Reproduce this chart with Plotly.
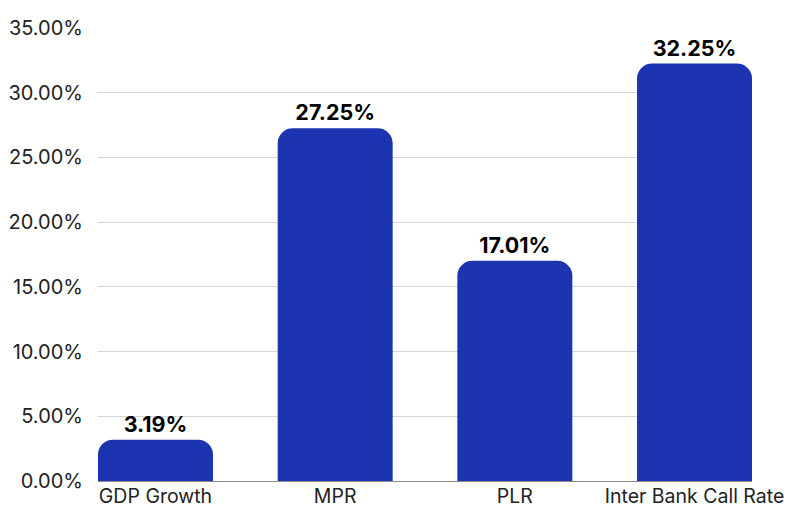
import plotly.graph_objects as go

categories = ["GDP Growth", "MPR", "PLR", "Inter Bank Call Rate"]
values = [3.19, 27.25, 17.01, 32.25]
tick_vals = [0, 5, 10, 15, 20, 25, 30, 35]
tick_text = [f"{v:.2f}%" for v in tick_vals]

fig = go.Figure(go.Bar(
    x=categories, y=values,
    marker=dict(color="#1c34b0", line=dict(width=0)),
    text=[f"{v:.2f}%" for v in values],
    textposition="outside",
    textfont=dict(family="Inter", size=21.5, color="#000000", weight="bold"),
    cliponaxis=False,
    width=0.64,
))

fig.update_layout(
    width=785, height=506,
    margin=dict(l=98, r=33, t=28, b=25, autoexpand=False),
    paper_bgcolor="white", plot_bgcolor="white",
    barcornerradius=15,
    font=dict(family="Inter", size=20, color="#222222"),
    showlegend=False,
)
fig.update_xaxes(range=[-0.32, 3.32], showgrid=False, showline=False,
                 ticks="", ticklabelstandoff=1,
                 tickfont=dict(size=19.5, color="#222222"), automargin=False)
fig.update_yaxes(range=[0, 35], tickvals=tick_vals, ticktext=tick_text,
                 showgrid=True, gridcolor="#d6d6d6", gridwidth=1,
                 zeroline=True, zerolinecolor="#8a8a8a", zerolinewidth=1,
                 showline=False, ticks="", ticklabelstandoff=14,
                 tickfont=dict(size=20, color="#222222"), automargin=False)

fig.write_html("out.html")
